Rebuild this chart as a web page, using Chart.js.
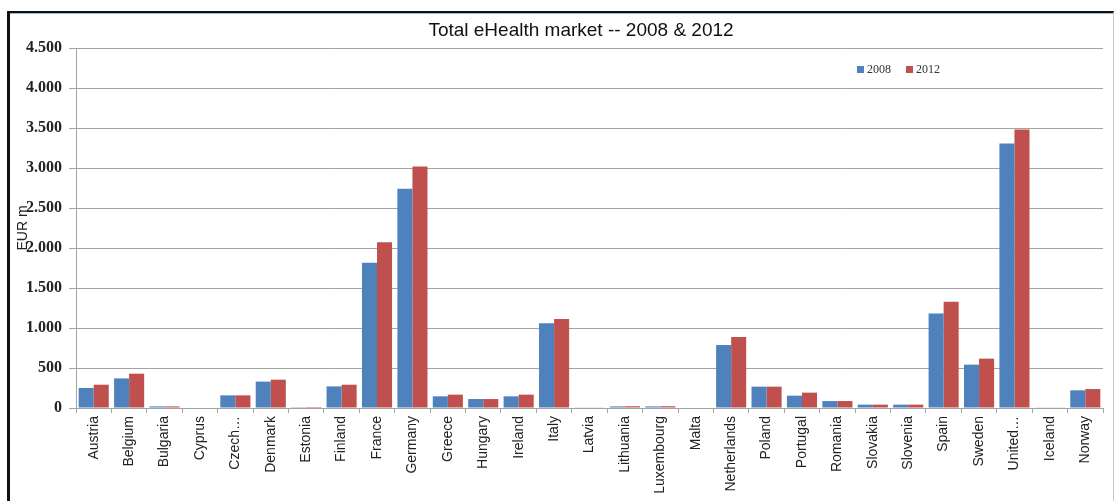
<!DOCTYPE html>
<html>
<head>
<meta charset="utf-8">
<script src="https://cdn.jsdelivr.net/npm/chart.js@4.4.1/dist/chart.umd.min.js"></script>
<style>
    body { margin: 0; background: #fff; }
    #wrap { position: relative; width: 1116px; height: 501px; overflow: hidden; }
    #frame {
        position: absolute; left: 7px; top: 11px; width: 1103px; height: 520px;
        border-left: 3px solid #111; border-top: 2px solid #111; border-right: 1px solid #c8c8c8;
        box-shadow: inset 0 1px 0 #9fb6d6;
    }
    #title {
        position: absolute; left: 381px; width: 400px; top: 19px; text-align: center;
        font-family: "Liberation Sans", Arial, sans-serif; font-size: 19px; color: #111;
    }
    #legend {
        position: absolute; left: 857px; top: 62px;
        font-family: "Liberation Serif", serif; font-size: 12px; color: #333;
    }
    #legend span.item { margin-right: 15px; }
    #legend i { display: inline-block; width: 7px; height: 7px; margin-right: 3px; vertical-align: 0px; }
    canvas { position: absolute; left: 0; top: 0; }
</style>
</head>
<body>
<div id="wrap">
    <div id="frame"></div>
    <canvas id="ehealth_chart" width="1116" height="501"></canvas>
    <div id="title">Total eHealth market -- 2008 &amp; 2012</div>
    <div id="legend"></div>
</div>

<script>
const countries = ['Austria', 'Belgium', 'Bulgaria', 'Cyprus', 'Czech…', 'Denmark', 'Estonia', 'Finland', 'France', 'Germany',
    'Greece', 'Hungary', 'Ireland', 'Italy', 'Latvia', 'Lithuania', 'Luxembourg', 'Malta', 'Netherlands', 'Poland',
    'Portugal', 'Romania', 'Slovakia', 'Slovenia', 'Spain', 'Sweden', 'United…', 'Iceland', 'Norway'];

// EUR m
const market2008 = [250, 370, 20, 0, 158, 330, 10, 270, 1815, 2740, 146, 112, 146, 1058, 8, 20, 20, 0, 787, 267, 154, 87, 42, 42, 1180, 542, 3306, 8, 221];
const market2012 = [291, 429, 20, 0, 158, 354, 12, 291, 2072, 3020, 167, 112, 167, 1112, 8, 22, 22, 0, 887, 267, 192, 87, 42, 42, 1329, 617, 3480, 8, 237];

const seriesNames = ['2008', '2012'];
const seriesColors = ['#4F81BD', '#C0504D'];

const yTicks = [0, 500, 1000, 1500, 2000, 2500, 3000, 3500, 4000, 4500];

// thousands with a dot, like the original
const fmt = (v) => v >= 1000 ? Math.floor(v / 1000) + '.' + String(v % 1000).padStart(3, '0') : String(v);

// legend
const legendBox = document.getElementById('legend');
seriesNames.forEach((name, i) => {
    legendBox.innerHTML += `<span class="item"><i style="background:${seriesColors[i]}"></i>${name}</span>`;
});

const ctx = document.getElementById('ehealth_chart');
const gridColor = '#a3a3a3';

new Chart(ctx, {
    type: 'bar',
    data: {
        labels: countries,
        datasets: [{
            label: seriesNames[0],
            data: market2008,
            backgroundColor: seriesColors[0],
            categoryPercentage: 0.85,
            barPercentage: 1.0
        }, {
            label: seriesNames[1],
            data: market2012,
            backgroundColor: seriesColors[1],
            categoryPercentage: 0.85,
            barPercentage: 1.0
        }]
    },
    options: {
        responsive: false,
        animation: false,
        devicePixelRatio: 1,
        layout: { padding: { top: 48, left: 0, right: 13, bottom: 0 } },
        plugins: {
            legend: { display: false },
            title: { display: false },
            tooltip: { enabled: false }
        },
        scales: {
            x: {
                afterFit: (scale) => { scale.height = 93; },
                grid: { display: true, drawOnChartArea: false, drawTicks: true, tickLength: 5, color: gridColor, offset: true },
                border: { color: gridColor },
                ticks: {
                    autoSkip: false,
                    minRotation: 90,
                    maxRotation: 90,
                    padding: 3,
                    color: '#222',
                    font: { family: 'Liberation Sans', size: 14 }
                }
            },
            y: {
                min: 0,
                max: 4500,
                afterFit: (scale) => { scale.width = 76; },
                afterBuildTicks: (scale) => { scale.ticks = yTicks.map(v => ({ value: v })); },
                grid: { color: gridColor, tickLength: 7 },
                border: { color: gridColor },
                title: {
                    display: true,
                    text: 'EUR m',
                    color: '#222',
                    padding: { top: 15, bottom: 0 },
                    font: { family: 'Liberation Sans', size: 14 }
                },
                ticks: {
                    padding: 7,
                    color: '#222',
                    font: { family: 'Liberation Serif', size: 16, weight: 'bold' },
                    callback: (v) => fmt(v)
                }
            }
        }
    }
});
</script>
</body>
</html>
